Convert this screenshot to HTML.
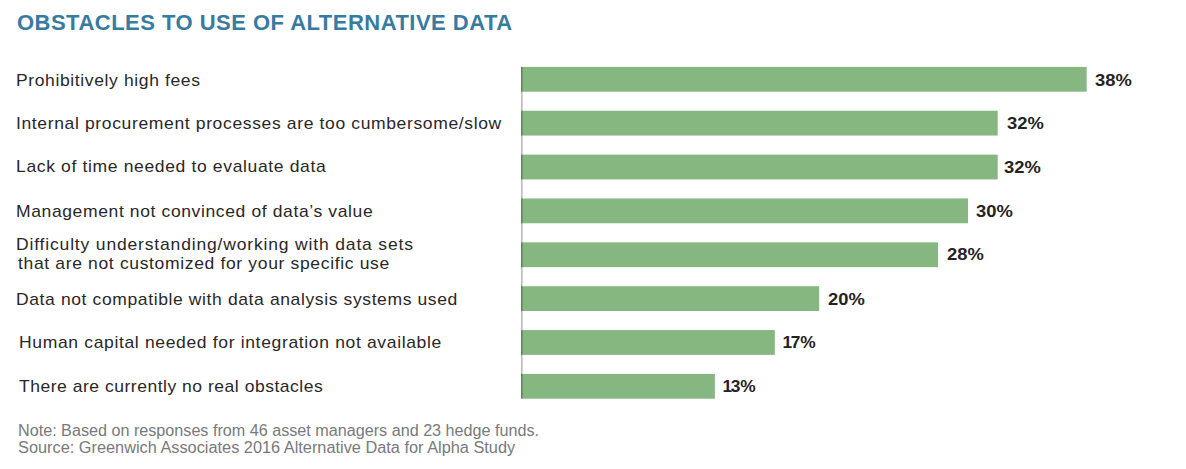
<!DOCTYPE html>
<html>
<head>
<meta charset="utf-8">
<style>
html,body{margin:0;padding:0;background:#fff;}
body{width:1186px;height:469px;position:relative;overflow:hidden;font-family:"Liberation Sans",sans-serif;}
.t{position:absolute;white-space:nowrap;line-height:20px;transform-origin:0 0;}
#title{left:17px;top:12px;font-size:22px;font-weight:bold;color:#387ba0;line-height:22px;letter-spacing:0.48px;}
.lab{font-size:17px;color:#2a2728;}
.val{font-size:17px;font-weight:bold;color:#262223;}
.note{font-size:16px;color:#78797c;line-height:17px;}
</style>
</head>
<body>
<div id="title" class="t">OBSTACLES TO USE OF ALTERNATIVE DATA</div>

<div class="t lab" style="top:71px;left:16px;letter-spacing:0.602px;transform:scaleX(1.03)">Prohibitively high fees</div>
<div class="t lab" style="top:114px;left:16px;letter-spacing:0.617px;transform:scaleX(1.03)">Internal procurement processes are too cumbersome/slow</div>
<div class="t lab" style="top:157px;left:16px;letter-spacing:0.626px;transform:scaleX(1.03)">Lack of time needed to evaluate data</div>
<div class="t lab" style="top:202px;left:16px;letter-spacing:0.599px;transform:scaleX(1.03)">Management not convinced of data’s value</div>
<div class="t lab" style="top:235px;left:16px;letter-spacing:0.805px;transform:scaleX(1.03)">Difficulty understanding/working with data sets</div>
<div class="t lab" style="top:254px;left:17.5px;letter-spacing:0.631px;transform:scaleX(1.03)">that are not customized for your specific use</div>
<div class="t lab" style="top:290px;left:16px;letter-spacing:0.594px;transform:scaleX(1.03)">Data not compatible with data analysis systems used</div>
<div class="t lab" style="top:333px;left:18.5px;letter-spacing:0.633px;transform:scaleX(1.03)">Human capital needed for integration not available</div>
<div class="t lab" style="top:377px;left:19px;letter-spacing:0.501px;transform:scaleX(1.03)">There are currently no real obstacles</div>
<svg width="1186" height="469" style="position:absolute;left:0;top:0">
<g fill="#86b780"><rect x="521" y="66.90" width="565.7" height="24.8"/><rect x="521" y="110.76" width="476.7" height="24.8"/><rect x="521" y="154.62" width="476.7" height="24.8"/><rect x="521" y="198.48" width="447.0" height="24.8"/><rect x="521" y="242.34" width="417.0" height="24.8"/><rect x="521" y="286.20" width="298.2" height="24.8"/><rect x="521" y="330.06" width="253.8" height="24.8"/><rect x="521" y="373.92" width="193.9" height="24.8"/></g>
<rect x="521" y="66.9" width="1.6" height="331.6" fill="#000" fill-opacity="0.27"/>
</svg>
<div class="t val" style="top:71px;left:1095px;transform:scaleX(1.08)">38%</div>
<div class="t val" style="top:114px;left:1007px;transform:scaleX(1.08)">32%</div>
<div class="t val" style="top:158px;left:1004px;transform:scaleX(1.08)">32%</div>
<div class="t val" style="top:202px;left:976px;transform:scaleX(1.08)">30%</div>
<div class="t val" style="top:245px;left:947px;transform:scaleX(1.08)">28%</div>
<div class="t val" style="top:290px;left:828px;transform:scaleX(1.08)">20%</div>
<div class="t val" style="top:333px;left:783px;transform:scaleX(1.02)"><span style="display:inline-block;width:8px;margin-left:-0.5px">1</span>7%</div>
<div class="t val" style="top:377px;left:723px;transform:scaleX(1.02)"><span style="display:inline-block;width:8px;margin-left:-0.5px">1</span>3%</div>
<div class="t note" style="top:422px;left:18px;letter-spacing:0px;transform:scaleX(1.01)">Note: Based on responses from 46 asset managers and 23 hedge funds.</div>
<div class="t note" style="top:438.5px;left:18px;letter-spacing:0px;transform:scaleX(1.02)">Source: Greenwich Associates 2016 Alternative Data for Alpha Study</div>
</body>
</html>
